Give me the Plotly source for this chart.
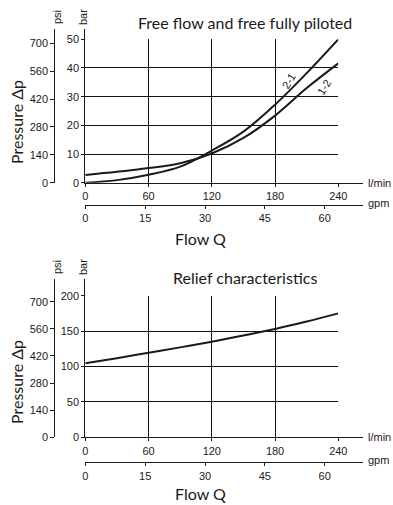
import plotly.graph_objects as go

W, H = 393, 505

def px(x):
    return x / W

def py(y):
    return 1 - y / H

# ---------------- data ----------------
flow_lpm = [0, 30, 60, 90, 120, 150, 180, 210, 240]
dp_21_bar = [0, 0.9, 2.8, 5.6, 11.2, 17.8, 27.2, 38.2, 50]
dp_12_bar = [2.7, 3.8, 5.1, 6.8, 10.2, 15.6, 23.4, 33.0, 41.6]
relief_bar = [104.5, 111.8, 119.5, 127.0, 135.0, 143.8, 153.0, 163.5, 175.0]

lpm_ticks = [0, 60, 120, 180, 240]
gpm_ticks = [0, 15, 30, 45, 60]
psi_ticks = [0, 140, 280, 420, 560, 700]
bar_ticks_top = [0, 10, 20, 30, 40, 50]
bar_ticks_bottom = [0, 50, 100, 150, 200]

LPM_PER_GPM = 3.7854

# ---------------- geometry (pixels) ----------------
X0, X240, XEND = 85.3, 338.3, 363.0
PSI_X = 54.3
LPM_MAX_EXT = 240 * (XEND - X0) / (X240 - X0)

TICK_FONT = dict(family="Liberation Sans Narrow, Arial Narrow, Liberation Sans, Arial, sans-serif",
                 size=11, color="#1a1a1a")
HUM_FONT = "Lato, Open Sans, Noto Sans, sans-serif"
LINE_C = "#1a1a1a"
GRID_C = "#111111"

fig = go.Figure()

layout = dict(width=W, height=H, autosize=False,
              margin=dict(l=0, r=0, t=0, b=0),
              paper_bgcolor="white", plot_bgcolor="rgba(0,0,0,0)",
              showlegend=False, annotations=[], hovermode=False)


def build_chart(k, y_top, y_zero, y_line_top, gpm_y, bar_max, bar_ticks,
                psi_700_y, title, title_y, flow_y, press_y, series):
    # axis ids: data x/y = k, line x/y = k+1, psi y = k+2, gpm x = k+2
    xd, xl, xg = [f"xaxis{'' if i == 1 else i}" for i in (k, k + 1, k + 2)]
    yd, yl, yp = [f"yaxis{'' if i == 1 else i}" for i in (k, k + 1, k + 2)]
    xr = lambda i: "x" if i == 1 else f"x{i}"
    yr = lambda i: "y" if i == 1 else f"y{i}"

    # data axes
    layout[xd] = dict(domain=[px(X0), px(X240)], anchor=yr(k), range=[0, 240],
                      tickvals=lpm_ticks, ticks="outside", ticklen=3, tickcolor=LINE_C,
                      showgrid=True, gridcolor=GRID_C, gridwidth=1,
                      showline=False, zeroline=False, tickfont=TICK_FONT,
                      automargin=False, fixedrange=True)
    layout[yd] = dict(domain=[py(y_zero), py(y_top)], anchor=xr(k), range=[0, bar_max],
                      tickvals=bar_ticks, ticks="outside", ticklen=3, tickcolor=LINE_C,
                      showgrid=True, gridcolor=GRID_C, gridwidth=1,
                      showline=False, zeroline=False, tickfont=TICK_FONT,
                      automargin=False, fixedrange=True)
    # extended axis lines
    layout[xl] = dict(domain=[px(X0), px(XEND)], anchor=yr(k), range=[0, 1],
                      showline=True, linecolor=LINE_C, linewidth=1,
                      showticklabels=False, ticks="", showgrid=False, zeroline=False,
                      automargin=False, fixedrange=True)
    layout[yl] = dict(domain=[py(y_zero), py(y_line_top)], anchor=xr(k), range=[0, 1],
                      showline=True, linecolor=LINE_C, linewidth=1,
                      showticklabels=False, ticks="", showgrid=False, zeroline=False,
                      automargin=False, fixedrange=True)
    # psi axis
    psi_max = 700 * (y_zero - y_line_top) / (y_zero - psi_700_y)
    layout[yp] = dict(domain=[py(y_zero), py(y_line_top)], anchor="free", position=px(PSI_X),
                      range=[0, psi_max], tickvals=psi_ticks, ticks="outside", ticklen=4,
                      tickcolor=LINE_C, showline=True, linecolor=LINE_C, linewidth=1,
                      showgrid=False, zeroline=False, tickfont=TICK_FONT,
                      automargin=False, fixedrange=True)
    # gpm axis
    gpm_max = LPM_MAX_EXT / LPM_PER_GPM
    layout[xg] = dict(domain=[px(X0), px(XEND)], anchor="free", position=py(gpm_y),
                      range=[0, gpm_max], tickvals=gpm_ticks, ticks="outside", ticklen=3,
                      tickcolor=LINE_C, showline=True, linecolor=LINE_C, linewidth=1,
                      showgrid=False, zeroline=False, tickfont=TICK_FONT,
                      automargin=False, fixedrange=True)

    # dummy traces so that every axis is drawn (paired with grid-less axes only)
    for xa, ya in ((xr(k + 1), yr(k + 1)), (xr(k + 1), yr(k + 2)), (xr(k + 2), yr(k + 1))):
        fig.add_trace(go.Scatter(x=[None], y=[None], xaxis=xa, yaxis=ya,
                                 mode="lines", hoverinfo="skip", showlegend=False))

    for ys in series:
        fig.add_trace(go.Scatter(x=flow_lpm, y=ys, xaxis=xr(k), yaxis=yr(k),
                                 mode="lines", line=dict(color=LINE_C, width=2, shape="spline"),
                                 hoverinfo="skip", showlegend=False))

    ann = layout["annotations"]
    ann.append(dict(text=title, x=px(245), y=py(title_y), xref="paper", yref="paper",
                    showarrow=False, font=dict(family=HUM_FONT, size=16, color="#1a1a1a"),
                    xanchor="center", yanchor="middle"))
    ann.append(dict(text="Flow Q", x=px(201), y=py(flow_y), xref="paper", yref="paper",
                    showarrow=False, font=dict(family=HUM_FONT, size=16, color="#1a1a1a"),
                    xanchor="center", yanchor="middle"))
    ann.append(dict(text="Pressure Δp", x=px(16), y=py(press_y), xref="paper", yref="paper",
                    showarrow=False, textangle=-90,
                    font=dict(family=HUM_FONT, size=16, color="#1a1a1a"),
                    xanchor="center", yanchor="middle"))
    ann.append(dict(text="psi", x=px(57), y=py(y_line_top - 12), xref="paper", yref="paper",
                    showarrow=False, textangle=-90, font=TICK_FONT,
                    xanchor="center", yanchor="middle"))
    ann.append(dict(text="bar", x=px(83), y=py(y_line_top - 12), xref="paper", yref="paper",
                    showarrow=False, textangle=-90, font=TICK_FONT,
                    xanchor="center", yanchor="middle"))
    ann.append(dict(text="l/min", x=px(366), y=py(y_zero), xref="paper", yref="paper",
                    showarrow=False, font=TICK_FONT, xanchor="left", yanchor="middle"))
    ann.append(dict(text="gpm", x=px(366), y=py(gpm_y - 2), xref="paper", yref="paper",
                    showarrow=False, font=TICK_FONT, xanchor="left", yanchor="middle"))


# top chart
build_chart(1, y_top=39.3, y_zero=182.7, y_line_top=29.0, gpm_y=205.0,
            bar_max=50, bar_ticks=bar_ticks_top, psi_700_y=43.3,
            title="Free flow and free fully piloted", title_y=22,
            flow_y=238, press_y=122, series=[dp_21_bar, dp_12_bar])

# bottom chart
build_chart(4, y_top=295.7, y_zero=437.3, y_line_top=279.0, gpm_y=462.3,
            bar_max=200, bar_ticks=bar_ticks_bottom, psi_700_y=301.7,
            title="Relief characteristics", title_y=277,
            flow_y=493, press_y=382, series=[relief_bar])

# curve labels on the top chart
layout["annotations"].append(dict(text="2-1", x=193, y=35.4, xref="x", yref="y",
                                  showarrow=False, textangle=-58, font=TICK_FONT,
                                  xanchor="center", yanchor="middle"))
layout["annotations"].append(dict(text="1-2", x=226.5, y=33.4, xref="x", yref="y",
                                  showarrow=False, textangle=-58, font=TICK_FONT,
                                  xanchor="center", yanchor="middle"))

fig.update_layout(**layout)
fig.write_html("out.html",
               config={"displayModeBar": False, "staticPlot": True},
               post_script="document.body.style.margin='0';document.body.style.padding='0';")
